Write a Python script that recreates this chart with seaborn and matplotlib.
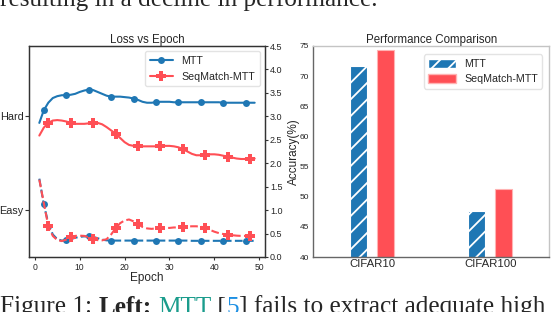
import numpy as np
import pandas as pd
import matplotlib
matplotlib.use("Agg")
import matplotlib.pyplot as plt
import seaborn as sns
from matplotlib.patches import Patch
from matplotlib.lines import Line2D

# ---------------- data ----------------
epochs = list(range(1, 50))
mtt_hard = [2.86, 3.13, 3.29, 3.39, 3.43, 3.45, 3.45, 3.46, 3.48, 3.52,
            3.55, 3.57, 3.56, 3.52, 3.48, 3.44, 3.42, 3.42, 3.42, 3.41,
            3.40, 3.38, 3.35, 3.31, 3.29, 3.29, 3.30, 3.31, 3.31, 3.31,
            3.30, 3.30, 3.30, 3.30, 3.30, 3.30, 3.30, 3.30, 3.30, 3.30,
            3.30, 3.29, 3.29, 3.29, 3.29, 3.29, 3.29, 3.29, 3.29]
seq_hard = [2.59, 2.76, 2.86, 2.91, 2.92, 2.91, 2.89, 2.86, 2.84, 2.84,
            2.84, 2.85, 2.86, 2.86, 2.83, 2.77, 2.70, 2.63, 2.54, 2.45,
            2.39, 2.37, 2.36, 2.36, 2.36, 2.36, 2.36, 2.36, 2.37, 2.37,
            2.36, 2.34, 2.30, 2.25, 2.20, 2.17, 2.17, 2.18, 2.19, 2.19,
            2.18, 2.16, 2.14, 2.12, 2.10, 2.09, 2.09, 2.10, 2.10]
mtt_easy = [1.67, 1.12, 0.72, 0.48, 0.38, 0.35, 0.355, 0.38, 0.41, 0.43,
            0.44, 0.44, 0.43, 0.40, 0.37, 0.355, 0.35, 0.35, 0.35, 0.35,
            0.35, 0.35, 0.35, 0.35, 0.35, 0.35, 0.35, 0.35, 0.35, 0.35,
            0.35, 0.35, 0.35, 0.35, 0.345, 0.345, 0.345, 0.345, 0.345, 0.345,
            0.345, 0.345, 0.345, 0.345, 0.345, 0.345, 0.345, 0.345, 0.345]
seq_easy = [1.65, 1.15, 0.66, 0.45, 0.36, 0.34, 0.37, 0.42, 0.45, 0.455,
            0.45, 0.42, 0.38, 0.36, 0.355, 0.38, 0.48, 0.61, 0.72, 0.78,
            0.80, 0.76, 0.70, 0.64, 0.61, 0.60, 0.61, 0.62, 0.62, 0.62,
            0.63, 0.63, 0.64, 0.65, 0.655, 0.655, 0.645, 0.62, 0.58, 0.54,
            0.51, 0.49, 0.475, 0.465, 0.455, 0.45, 0.45, 0.455, 0.455]

difficulty_ticks = [1.0, 3.0]
difficulty_labels = ["Easy", "Hard"]
loss_ticks = [0.0, 0.5, 1.0, 1.5, 2.0, 2.5, 3.0, 3.5, 4.0, 4.5]
epoch_ticks = [0, 10, 20, 30, 40, 50]

datasets = ["CIFAR10", "CIFAR100"]
mtt_acc = [71.6, 47.7]
seq_acc = [74.4, 51.2]
methods = ["MTT", "SeqMatch-MTT"]
acc_ticks = [40, 45, 50, 55, 60, 65, 70, 75]

# ---------------- style ----------------
sns.set_theme(style="white")
plt.rcParams["font.family"] = ["Liberation Sans", "DejaVu Sans"]
plt.rcParams["hatch.linewidth"] = 1.3
plt.rcParams["hatch.color"] = "white"

BLUE = "#1f77b4"
RED = "#ff4f55"
TXT = "#262626"

W, H = 552, 312
fig = plt.figure(figsize=(W / 100, H / 100), dpi=100)

def px_axes(x0, y0, x1, y1):
    return fig.add_axes([x0 / W, 1 - y1 / H, (x1 - x0) / W, (y1 - y0) / H])

ax1 = px_axes(29, 46, 265, 257)
ax2 = px_axes(313.3, 46, 549.3, 257)

# ---------------- left: loss vs epoch ----------------
sns.lineplot(x=epochs, y=mtt_hard, ax=ax1, color=BLUE, lw=1.5, marker="o",
             markersize=5, markevery=(1, 5), markeredgewidth=0, label=methods[0])
sns.lineplot(x=epochs, y=seq_hard, ax=ax1, color=RED, lw=1.5, marker="P",
             markersize=6.5, markevery=(2, 5), markeredgewidth=0, label=methods[1])
sns.lineplot(x=epochs, y=mtt_easy, ax=ax1, color=BLUE, lw=1.5, ls="--", marker="o",
             markersize=5, markevery=(1, 5), markeredgewidth=0, legend=False)
sns.lineplot(x=epochs, y=seq_easy, ax=ax1, color=RED, lw=1.5, ls="--", marker="P",
             markersize=6.5, markevery=(2, 5), markeredgewidth=0, legend=False)

ax1.set_xlim(-1.3, 51.3)
ax1.set_ylim(0, 4.5)
ax1.set_xticks(epoch_ticks)
ax1.set_yticks(difficulty_ticks)
ax1.set_yticklabels(difficulty_labels, fontsize=7.8)
ax1.tick_params(axis="x", labelsize=6.2, length=2.5, width=0.8, pad=1.5,
                color="#333333", labelcolor=TXT, bottom=True)
ax1.tick_params(axis="y", length=3, width=0.8, pad=1, color="#333333",
                labelcolor=TXT, left=True)
ax1.set_xlabel("Epoch", fontsize=8.5, labelpad=0.2, color=TXT)
ax1.set_ylabel("")
ax1.set_title("Loss vs Epoch", fontsize=8.3, pad=2, color=TXT)

ax1r = ax1.twinx()
ax1r.set_ylim(0, 4.5)
ax1r.set_yticks(loss_ticks)
ax1r.set_yticklabels([f"{v:.1f}" for v in loss_ticks])
ax1r.tick_params(axis="y", labelsize=6.5, length=2.5, width=0.8, pad=1,
                 color="#333333", labelcolor=TXT, right=True)
for a in (ax1, ax1r):
    for s in a.spines.values():
        s.set_color("#333333")
        s.set_linewidth(0.9)

h = [Line2D([], [], color=BLUE, lw=1.5, marker="o", markersize=5, markeredgewidth=0),
     Line2D([], [], color=RED, lw=1.5, marker="P", markersize=6.5, markeredgewidth=0)]
ax1.legend(h, methods, loc="upper right", fontsize=7.7, frameon=True,
           borderaxespad=0.5, handlelength=2.2, labelspacing=0.6,
           edgecolor="#dddddd", fancybox=True)

# ---------------- right: performance comparison ----------------
df = pd.DataFrame({
    "dataset": datasets * 2,
    "acc": mtt_acc + seq_acc,
    "method": [methods[0]] * 2 + [methods[1]] * 2,
})
sns.barplot(data=df, x="dataset", y="acc", hue="method", palette=[BLUE, RED],
            width=0.457, gap=0.36, ax=ax2, legend=False, saturation=1)
for bar in ax2.containers[0]:
    bar.set_hatch("//")
    bar.set_edgecolor("white")
    bar.set_linewidth(0.8)
for bar in ax2.containers[1]:
    bar.set_edgecolor("#ffb3b3")
    bar.set_linewidth(0.8)

ax2.set_xlim(-0.5, 1.5)
ax2.set_ylim(40, 75)
ax2.set_yticks(acc_ticks)
ax2.tick_params(axis="y", labelsize=6, length=0, pad=3, labelcolor=TXT)
ax2.tick_params(axis="x", labelsize=8.2, length=0, pad=1.5, labelcolor=TXT)
ax2.set_xlabel("")
ax2.set_ylabel("Accuracy(%)", fontsize=8.5, color=TXT)
ax2.yaxis.set_label_coords(-0.055, 0.5)
ax2.set_title("Performance Comparison", fontsize=8.3, pad=2, color=TXT)
for side, s in ax2.spines.items():
    s.set_linewidth(1.0)
    s.set_color("#666666" if side in ("left", "bottom") else "#c4c4c4")

hb = [Patch(facecolor=BLUE, edgecolor="white", hatch="//"),
      Patch(facecolor=RED, edgecolor="#ffb3b3")]
ax2.legend(hb, methods, loc="upper right", fontsize=7.7, frameon=True,
           bbox_to_anchor=(0.98, 0.97), borderaxespad=0.2, handlelength=2.6,
           handleheight=0.9, labelspacing=0.5, edgecolor="#dddddd", fancybox=True)

# ---------------- surrounding page text ----------------
serif = ["Liberation Serif", "DejaVu Serif"]
fig.text(0.0, 1 - 6.2 / H, "resulting in a decline in performance.",
         fontsize=18.2, family=serif, va="baseline", ha="left")

fig.canvas.draw()
renderer = fig.canvas.get_renderer()
parts = [("Figure 1: ", {}), ("Left:", {"weight": "bold"}), (" ", {}),
         ("MTT", {"color": "#1a9c8c"}), (" [", {}), ("5", {"color": "#1c8fe3"}),
         ("] fails to extract adequate high", {})]
x = 0.0
ycap = 1 - 313.5 / H
for s, props in parts:
    t = fig.text(x, ycap, s, fontsize=18.2, family=serif, va="baseline", ha="left", **props)
    bb = t.get_window_extent(renderer)
    x += bb.width / fig.bbox.width

fig.savefig("out.png", dpi=100)
